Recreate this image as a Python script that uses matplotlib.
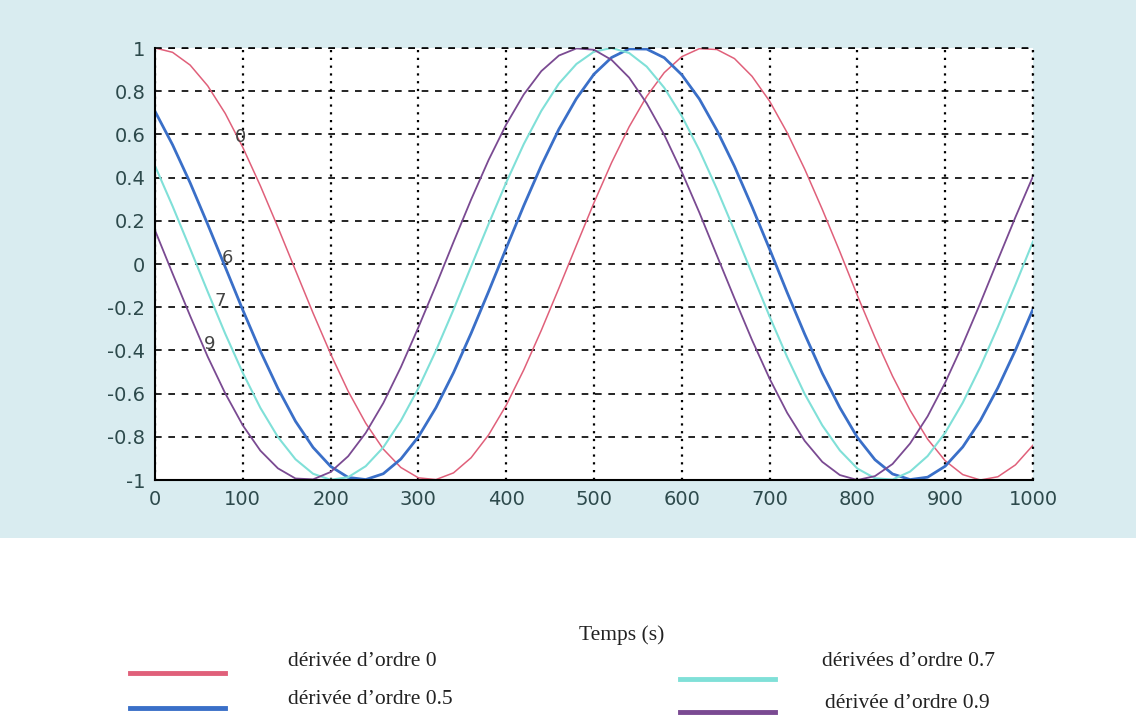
import matplotlib.pyplot as plt
from matplotlib.patches import Rectangle

# temps (s), un point tous les 20 s
temps = list(range(0, 1001, 20))

ordre_0 = [1.000, 0.980, 0.921, 0.825, 0.697, 0.540, 0.362, 0.170, -0.029, -0.227,
           -0.416, -0.589, -0.737, -0.857, -0.942, -0.990, -0.998, -0.967, -0.897, -0.791,
           -0.654, -0.490, -0.307, -0.112, 0.087, 0.284, 0.469, 0.635, 0.776, 0.886,
           0.960, 0.997, 0.993, 0.951, 0.869, 0.754, 0.608, 0.439, 0.253, 0.057,
           -0.146, -0.340, -0.519, -0.677, -0.811, -0.911, -0.975, -1.000, -0.985, -0.930,
           -0.839]
ordre_05 = [0.707, 0.552, 0.376, 0.184, -0.014, -0.213, -0.403, -0.576, -0.728, -0.849,
            -0.937, -0.988, -0.998, -0.971, -0.903, -0.800, -0.665, -0.503, -0.321, -0.127,
            0.073, 0.270, 0.456, 0.624, 0.766, 0.879, 0.956, 0.996, 0.995, 0.955,
            0.876, 0.764, 0.619, 0.452, 0.265, 0.069, -0.132, -0.325, -0.506, -0.665,
            -0.803, -0.906, -0.972, -0.998, -0.987, -0.936, -0.847, -0.725, -0.573, -0.399,
            -0.209]
ordre_07 = [0.454, 0.268, 0.071, -0.128, -0.323, -0.504, -0.666, -0.801, -0.904, -0.971,
            -0.999, -0.987, -0.936, -0.849, -0.726, -0.575, -0.401, -0.211, -0.012, 0.186,
            0.377, 0.555, 0.709, 0.835, 0.926, 0.983, 1.000, 0.977, 0.914, 0.816,
            0.685, 0.527, 0.347, 0.154, -0.045, -0.243, -0.431, -0.602, -0.747, -0.863,
            -0.947, -0.992, -0.998, -0.961, -0.889, -0.781, -0.642, -0.476, -0.291, -0.096,
            0.104]
ordre_09 = [0.156, -0.044, -0.240, -0.429, -0.599, -0.747, -0.864, -0.946, -0.993, -0.997,
            -0.963, -0.890, -0.782, -0.644, -0.478, -0.293, -0.099, 0.102, 0.298, 0.482,
            0.646, 0.785, 0.893, 0.965, 0.998, 0.992, 0.945, 0.863, 0.744, 0.598,
            0.426, 0.238, 0.039, -0.159, -0.352, -0.531, -0.689, -0.819, -0.916, -0.977,
            -1.000, -0.982, -0.926, -0.831, -0.705, -0.549, -0.372, -0.181, 0.019, 0.217,
            0.406]

noms = ["dérivée d\u2019ordre 0", "dérivée d\u2019ordre 0.5",
        "dérivées d\u2019ordre 0.7", "dérivée d\u2019ordre 0.9"]
etiquettes = ["0", "6", "7", "9"]
pos_etiquettes = [(97, 0.59), (83, 0.03), (74, -0.17), (62, -0.37)]

couleurs = ["#e0607a", "#3a6fc8", "#80e0d8", "#7a4a92"]
epaisseurs = [1.1, 2.0, 1.5, 1.3]

fig = plt.figure(figsize=(11.36, 7.15), dpi=100)
fig.patch.set_facecolor("white")
fig.add_artist(Rectangle((0, 1 - 538 / 715), 1, 538 / 715, transform=fig.transFigure,
                         facecolor="#d9ecf0", edgecolor="none", zorder=0))

ax = fig.add_axes([155 / 1136, 1 - 480 / 715, 878 / 1136, 432 / 715])
ax.set_facecolor("white")

series = [ordre_0, ordre_05, ordre_07, ordre_09]
for y, c, lw in zip(series, couleurs, epaisseurs):
    ax.plot(temps, y, color=c, lw=lw)

for txt, (x, y) in zip(etiquettes, pos_etiquettes):
    ax.text(x, y, txt, fontsize=13, color="#444444", ha="center", va="center")

ax.set_xlim(0, 1000)
ax.set_ylim(-1, 1)
ax.set_xticks(range(0, 1001, 100))
ax.set_yticks([-1, -0.8, -0.6, -0.4, -0.2, 0, 0.2, 0.4, 0.6, 0.8, 1])
ax.set_yticklabels(["-1", "-0.8", "-0.6", "-0.4", "-0.2", "0", "0.2", "0.4", "0.6", "0.8", "1"])
ax.tick_params(labelsize=14, labelcolor="#2d4a4c", length=0, pad=7)

ax.xaxis.grid(True, linestyle=(0, (1, 2.5)), color="black", lw=1.6)
ax.yaxis.grid(True, linestyle=(0, (4, 4)), color="black", lw=1.2)
for s in ["top", "right"]:
    ax.spines[s].set_visible(False)
ax.spines["left"].set_linewidth(1.5)
ax.spines["bottom"].set_linewidth(1.5)
# bords haut et droite en pointillés comme la grille
ax.axhline(1, color="black", lw=1.2, linestyle=(0, (4, 4)), clip_on=False)
ax.axvline(1000, color="black", lw=1.6, linestyle=(0, (1, 2.5)), clip_on=False)

# légende sous le graphique
police = {"family": "Liberation Serif", "size": 15.5, "color": "#222222"}
fig.text(622 / 1136, 1 - 635 / 715, "Temps (s)", ha="center", va="center", **police)

positions_ligne = [(130, 673), (130, 708), (680, 679), (680, 712)]
positions_texte = [(288, 661), (288, 700), (822, 662), (825, 703)]
for (lx, ly), (tx, ty), c, nom in zip(positions_ligne, positions_texte, couleurs, noms):
    fig.add_artist(plt.Line2D([lx / 1136, (lx + 95) / 1136], [1 - ly / 715, 1 - ly / 715],
                              transform=fig.transFigure, color=c, lw=3.5))
    fig.text(tx / 1136, 1 - ty / 715, nom, ha="left", va="center", **police)

fig.savefig("out.png", dpi=100, facecolor=fig.get_facecolor())
